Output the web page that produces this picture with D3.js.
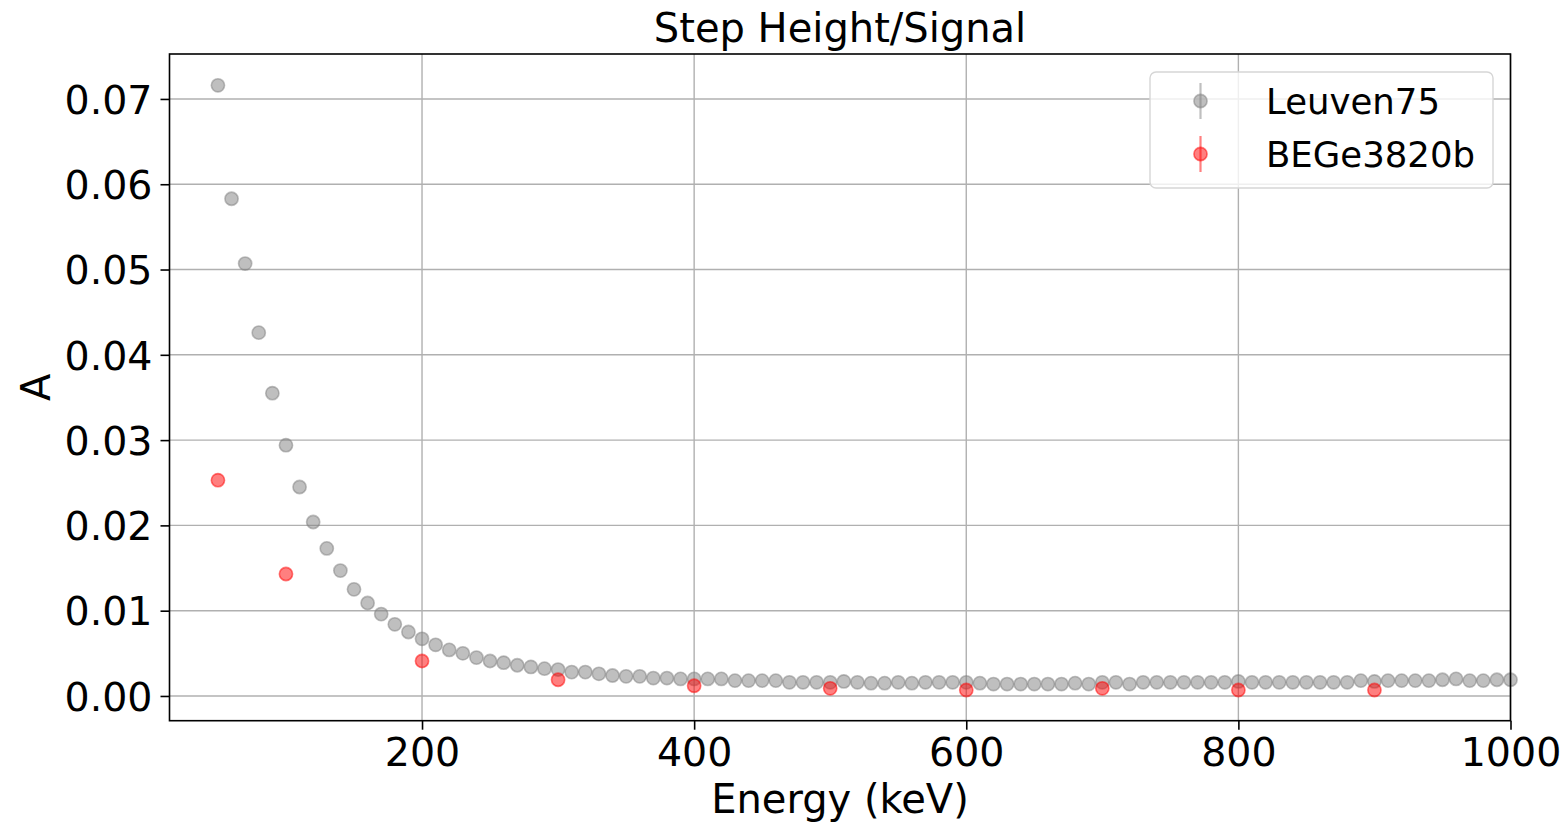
<html lang="en">
<head>
<meta charset="UTF-8">
<title>Step Height/Signal</title>
<script src="https://d3js.org/d3.v7.min.js"></script>
<style>
  body { margin: 0; background: #fff; }
  text { font-family: "DejaVu Sans", sans-serif; fill: #000; }
</style>
</head>
<body>
<script>
    // Leuven75, every 10 keV from 50 to 1000
    const leuvenEnergy = d3.range(50, 1001, 10);
    const leuvenA = [
        0.0716, 0.0583, 0.0507, 0.0426, 0.0355, 0.0294, 0.0245, 0.0204, 0.0173, 0.0147,
        0.0125, 0.0109, 0.0096, 0.0084, 0.0075, 0.0067, 0.0060, 0.0054, 0.0050, 0.0045,
        0.0041, 0.0039, 0.0036, 0.0034, 0.0032, 0.0031, 0.0028, 0.0028, 0.0026, 0.0024,
        0.0023, 0.0023, 0.0021, 0.0021, 0.0020, 0.0020, 0.0020, 0.0020, 0.0018, 0.0018,
        0.0018, 0.0018, 0.0016, 0.0016, 0.0016, 0.0016, 0.0017, 0.0016, 0.0015, 0.0015,
        0.0016, 0.0015, 0.0016, 0.0016, 0.0016, 0.0016, 0.0015, 0.0014, 0.0014, 0.0014,
        0.0014, 0.0014, 0.0014, 0.0015, 0.0014, 0.0016, 0.0016, 0.0014, 0.0016, 0.0016,
        0.0016, 0.0016, 0.0016, 0.0016, 0.0016, 0.0017, 0.0016, 0.0016, 0.0016, 0.0016,
        0.0016, 0.0016, 0.0016, 0.0016, 0.0018, 0.0017, 0.0018, 0.0018, 0.0018, 0.0018,
        0.0019, 0.0020, 0.0018, 0.0018, 0.0019, 0.0019];

    const begeEnergy = [50, 100, 200, 300, 400, 500, 600, 700, 800, 900];
    const begeA = [0.0253, 0.0143, 0.0041, 0.0019, 0.0012, 0.0009, 0.0007, 0.0009, 0.0007, 0.0007];

    const xTicks = [200, 400, 600, 800, 1000];
    const yTicks = [0, 0.01, 0.02, 0.03, 0.04, 0.05, 0.06, 0.07];

    const series = [
        { name: "Leuven75", colour: "#808080", x: leuvenEnergy, y: leuvenA },
        { name: "BEGe3820b", colour: "#ff0000", x: begeEnergy, y: begeA }
    ];

    const w = 1567, h = 825;
    const plotLeft = 169.5, plotRight = 1510.5, plotTop = 54, plotBottom = 720.7;

    const x = d3.scaleLinear().domain([14.4, 1000]).range([plotLeft, plotRight]);
    const y = d3.scaleLinear().domain([-0.0029, 0.07527]).range([plotBottom, plotTop]);

    const svg = d3.select("body").append("svg")
        .attr("width", w)
        .attr("height", h);

    // grid
    svg.append("g").selectAll("line")
        .data(xTicks)
        .enter().append("line")
        .attr("x1", d => x(d)).attr("x2", d => x(d))
        .attr("y1", plotTop).attr("y2", plotBottom)
        .attr("stroke", "#b0b0b0").attr("stroke-width", 1.4);
    svg.append("g").selectAll("line")
        .data(yTicks)
        .enter().append("line")
        .attr("x1", plotLeft).attr("x2", plotRight)
        .attr("y1", d => y(d)).attr("y2", d => y(d))
        .attr("stroke", "#b0b0b0").attr("stroke-width", 1.4);

    // axes
    const xAxis = d3.axisBottom(x).tickValues(xTicks).tickSize(9).tickPadding(8).tickFormat(d3.format("d"));
    const yAxis = d3.axisLeft(y).tickValues(yTicks).tickSize(9).tickPadding(8).tickFormat(d3.format(".2f"));

    const gx = svg.append("g").attr("transform", "translate(0," + plotBottom + ")").call(xAxis);
    const gy = svg.append("g").attr("transform", "translate(" + plotLeft + ",0)").call(yAxis);
    [gx, gy].forEach(g => {
        g.select(".domain").remove();
        g.selectAll(".tick line").attr("stroke", "#000").attr("stroke-width", 1.6);
        g.selectAll(".tick text").style("font-size", "39.5px").attr("fill", "#000");
    });
    gy.selectAll(".tick text").attr("dy", "0.36em");

    // points
    series.forEach(s => {
        svg.append("g").selectAll("circle")
            .data(s.x.map((e, i) => [e, s.y[i]]))
            .enter().append("circle")
            .attr("cx", d => x(d[0]))
            .attr("cy", d => y(d[1]))
            .attr("r", 6.6)
            .attr("fill", s.colour).attr("fill-opacity", 0.5)
            .attr("stroke", s.colour).attr("stroke-opacity", 0.5).attr("stroke-width", 1.6);
    });

    // frame
    svg.append("rect")
        .attr("x", plotLeft).attr("y", plotTop)
        .attr("width", plotRight - plotLeft).attr("height", plotBottom - plotTop)
        .attr("fill", "none").attr("stroke", "#000").attr("stroke-width", 1.6);

    // titles
    svg.append("text").attr("x", (plotLeft + plotRight) / 2).attr("y", 42)
        .attr("text-anchor", "middle").style("font-size", "40px").text("Step Height/Signal");
    svg.append("text").attr("x", (plotLeft + plotRight) / 2).attr("y", 813)
        .attr("text-anchor", "middle").style("font-size", "40px").text("Energy (keV)");
    svg.append("text").attr("transform", "translate(50," + ((plotTop + plotBottom) / 2) + ") rotate(-90)")
        .attr("text-anchor", "middle").style("font-size", "40px").text("A");

    // legend
    const legend = svg.append("g");
    legend.append("rect")
        .attr("x", 1150).attr("y", 72).attr("width", 343).attr("height", 116)
        .attr("rx", 6)
        .attr("fill", "#fff").attr("fill-opacity", 0.8)
        .attr("stroke", "#d6d6d6").attr("stroke-width", 1.4);
    series.forEach((s, i) => {
        const cy = 101 + i * 53;
        legend.append("line")
            .attr("x1", 1200.5).attr("x2", 1200.5)
            .attr("y1", cy - 18).attr("y2", cy + 18)
            .attr("stroke", s.colour).attr("stroke-opacity", 0.5).attr("stroke-width", 2.2);
        legend.append("circle")
            .attr("cx", 1200.5).attr("cy", cy).attr("r", 6.6)
            .attr("fill", s.colour).attr("fill-opacity", 0.5)
            .attr("stroke", s.colour).attr("stroke-opacity", 0.5).attr("stroke-width", 1.6);
        legend.append("text")
            .attr("x", 1266).attr("y", cy).attr("dy", "0.36em")
            .style("font-size", "35.5px").text(s.name);
    });
</script>
</body>
</html>
